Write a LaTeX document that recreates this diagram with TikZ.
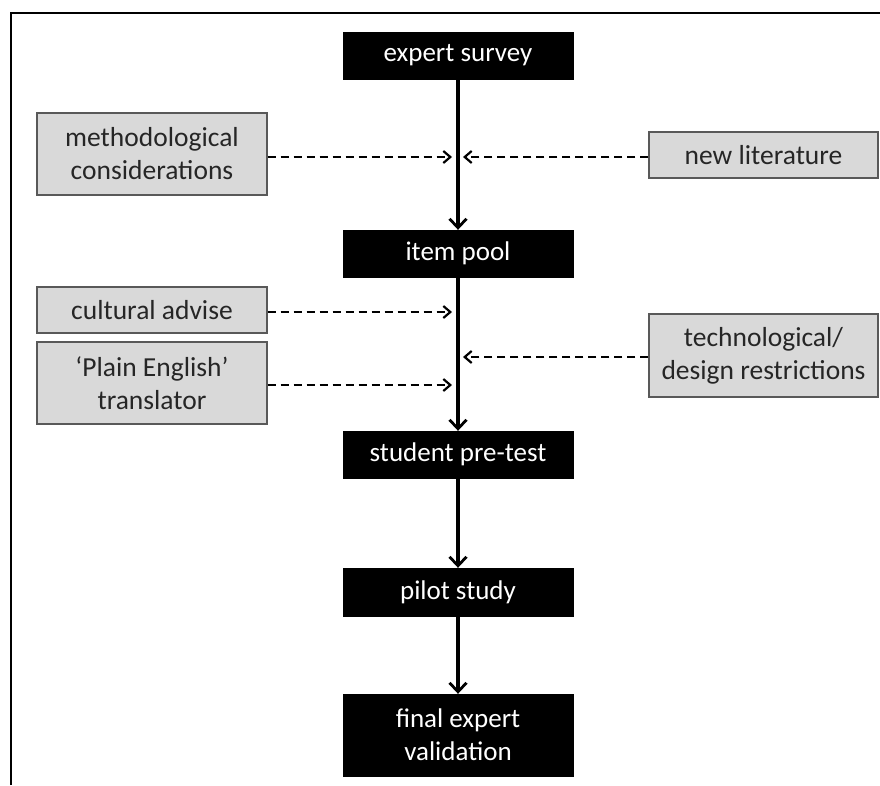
\documentclass[tikz,border=0pt]{standalone}
\usepackage{fontspec}
\setmainfont{Carlito}
\usetikzlibrary{arrows.meta}
\definecolor{boxgray}{HTML}{D9D9D9}
\definecolor{edgegray}{HTML}{595959}
\definecolor{textgray}{HTML}{262626}
\begin{document}
\begin{tikzpicture}[x=1pt,y=-1pt,
  stage/.style={fill=black, draw=black, text=white, inner sep=0pt,
    minimum width=230pt, align=center,
    font=\fontsize{27}{33}\selectfont},
  factor/.style={fill=boxgray, draw=edgegray, line width=1.4pt, text=textgray,
    inner sep=0pt, minimum width=230pt, align=center,
    font=\fontsize{27.5}{33}\selectfont},
  flow/.style={line width=3.2pt, -{Straight Barb[length=9pt,width=17pt,line width=2.8pt]}},
  input/.style={line width=2.2pt, dash pattern=on 8pt off 5pt,
    -{Straight Barb[length=7pt,width=12pt,line width=2.2pt]}}]
\useasboundingbox (0,0) rectangle (880,785);

% open frame: top and left edges only
\draw[line width=2.6pt] (11,785) -- (11,13) -- (880,13);

% main sequence of stages
\node[stage, minimum height=47pt] (survey) at (458,55.5) {expert survey};
\node[stage, minimum height=47pt] (pool)   at (458,253.5) {item pool};
\node[stage, minimum height=47pt] (pretest) at (458,454.5) {student pre-test};
\node[stage, minimum height=48pt] (pilot)  at (458,592) {pilot study};
\node[stage, minimum height=82pt] (final)  at (458,735) {final expert\\validation};

% influencing factors
\node[factor, minimum height=82pt] (method)  at (152,154) {methodological\\considerations};
\node[factor, minimum width=229pt, minimum height=46pt] (newlit) at (763.5,155) {new literature};
\node[factor, minimum height=46pt] (culture) at (152,310) {cultural advise};
\node[factor, minimum height=82pt] (plain)   at (152,383) {‘Plain English’\\translator};
\node[factor, minimum width=229pt, minimum height=83pt] (tech) at (763.5,355.5) {technological/\\design restrictions};

% flow between stages
\draw[flow] (survey.south) -- (pool.north);
\draw[flow] (pool.south) -- (pretest.north);
\draw[flow] (pretest.south) -- (pilot.north);
\draw[flow] (pilot.south) -- (final.north);

% points where the factors meet the main line
\coordinate (inA) at (452,157);
\coordinate (inB) at (463,157);
\coordinate (inC) at (452,312);
\coordinate (inD) at (463,357);
\coordinate (inE) at (452,385);

\draw[input] (method.east |- inA) -- (inA);
\draw[input] (newlit.west |- inB) -- (inB);
\draw[input] (culture.east |- inC) -- (inC);
\draw[input] (tech.west |- inD) -- (inD);
\draw[input] (plain.east |- inE) -- (inE);
\end{tikzpicture}
\end{document}
